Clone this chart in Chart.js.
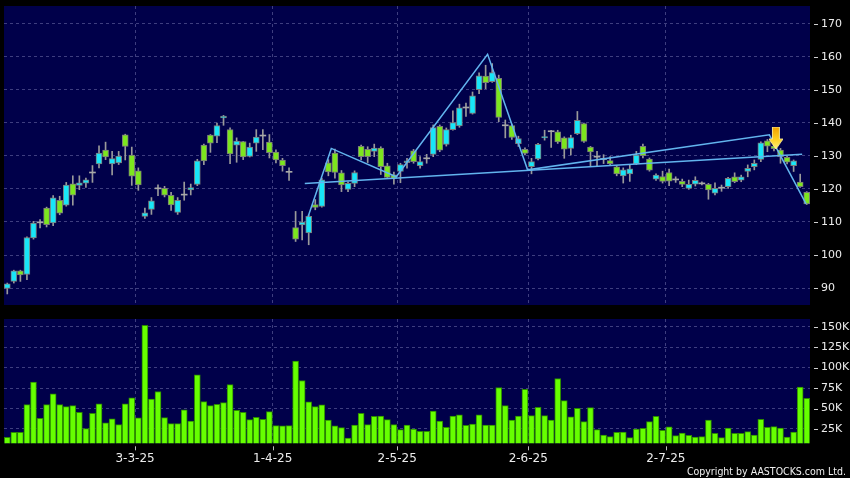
<!DOCTYPE html>
<html><head><meta charset="utf-8">
<script src="https://cdn.jsdelivr.net/npm/chart.js@4.4.1/dist/chart.umd.min.js"></script>
<style>
html,body{margin:0;padding:0;background:#000;}
#wrap{position:relative;width:850px;height:478px;background:#000;overflow:hidden;}
#c1{position:absolute;left:0;top:0;}
#c2{position:absolute;left:0;top:312px;}
#copy{position:absolute;right:4px;top:464px;color:#f0f0f0;font-family:"DejaVu Sans";font-size:10.5px;font-stretch:condensed;line-height:15px;white-space:nowrap;}
</style></head><body>
<div id="wrap">
<canvas id="c1" width="850" height="312"></canvas>
<canvas id="c2" width="850" height="166"></canvas>
<div id="copy">Copyright by AASTOCKS.com Ltd.</div>
</div>
<script>
// ---- data ----
const openP = [89.9,92.0,95.2,94.1,105.2,109.9,114.2,109.7,116.6,115.1,
 121.6,121.1,121.8,125.0,127.6,131.8,127.6,127.9,136.4,130.3,
 125.5,111.7,113.8,120.2,120.2,118.1,112.9,118.3,119.7,121.4,
 133.3,136.3,136.0,141.5,138.0,133.3,134.4,129.9,133.9,136.2,
 134.2,131.2,128.8,125.2,108.3,109.1,106.7,115.3,114.7,127.9,
 130.9,124.9,119.9,121.7,132.9,132.0,131.4,132.4,127.0,124.3,
 125.3,128.0,131.6,127.1,129.3,130.5,139.0,133.5,138.0,139.1,
 144.7,142.9,150.1,154.2,152.5,153.5,139.3,139.2,133.7,132.0,
 126.8,129.1,135.5,137.5,137.3,135.5,132.3,136.8,139.8,132.7,
 129.8,129.1,128.6,126.7,124.0,124.6,127.6,132.9,129.1,123.0,
 123.8,125.0,122.9,122.3,120.2,121.5,121.7,121.4,118.7,120.4,
 120.7,123.7,122.7,125.3,126.8,129.0,134.6,133.0,131.8,129.6,
 127.1,122.1,119.0];
const highP = [91.5,95.4,95.4,105.5,110.2,110.7,114.5,118.0,117.8,122.0,
 124.0,124.0,123.3,127.1,133.1,134.2,131.4,131.4,136.6,132.7,
 126.4,114.2,117.4,121.3,120.8,119.0,117.4,122.1,121.5,129.0,
 133.6,136.5,140.0,142.3,138.5,135.5,134.4,133.9,138.0,138.0,
 136.5,131.9,129.3,126.4,113.2,113.2,112.2,116.8,123.3,128.9,
 132.1,125.6,122.2,125.5,133.3,132.8,133.6,132.8,127.8,125.1,
 127.8,129.3,132.0,129.8,130.5,139.4,139.4,138.5,143.7,145.7,
 146.0,149.4,155.2,157.5,158.0,154.5,140.9,139.7,136.0,132.5,
 129.3,133.8,137.8,137.8,137.8,135.8,136.3,143.5,140.0,132.9,
 131.4,130.4,129.8,127.1,126.4,127.4,131.4,133.6,129.4,124.6,
 125.4,126.0,123.7,123.0,122.7,123.7,122.2,121.7,121.9,121.2,
 123.5,124.9,124.2,127.3,128.8,134.3,135.0,133.5,132.3,129.9,
 128.8,124.5,119.2];
const lowP = [88.2,91.5,92.0,92.5,104.8,108.2,108.5,108.9,112.2,114.8,
 115.1,119.8,120.5,122.0,126.4,128.9,124.3,127.4,128.8,121.1,
 119.6,111.1,112.3,118.0,117.6,113.5,112.3,116.6,118.2,121.0,
 127.4,131.1,134.0,139.3,127.7,128.1,128.9,129.7,131.4,131.9,
 129.4,127.9,125.4,122.6,104.1,104.6,103.1,113.7,114.5,124.0,
 123.3,119.2,119.2,120.7,128.8,128.0,129.8,124.4,123.2,121.5,
 121.9,126.3,127.8,126.3,127.8,129.8,131.3,133.0,137.8,138.7,
 142.0,142.7,148.9,150.4,152.3,140.4,135.5,135.0,132.9,130.3,
 124.6,128.8,134.8,132.6,133.8,129.3,130.3,136.5,134.1,126.9,
 126.9,127.7,127.4,124.0,121.8,122.3,127.4,129.4,125.4,122.6,
 121.8,121.0,122.0,120.7,119.9,120.9,121.2,116.9,118.2,119.3,
 120.2,121.9,122.2,123.7,125.8,128.3,131.3,131.5,127.8,127.6,
 125.3,120.5,115.3];
const closeP = [91.3,95.2,94.0,105.3,109.7,109.9,109.2,117.3,112.7,121.2,
 118.1,121.9,122.8,125.0,130.9,129.7,129.2,130.0,132.9,123.9,
 121.2,112.8,116.4,120.2,118.1,115.2,116.6,118.3,120.4,128.5,
 128.5,133.9,139.2,142.1,130.6,134.5,129.7,132.7,135.7,136.2,
 131.0,128.8,127.1,125.2,104.8,110.0,111.7,114.4,122.8,125.2,
 125.0,121.2,121.7,125.0,129.8,129.8,132.4,126.8,123.5,123.2,
 127.4,128.5,128.3,128.3,129.3,138.6,131.8,138.0,140.1,144.6,
 144.7,148.2,154.3,152.2,155.3,141.7,139.3,135.6,135.3,130.8,
 128.3,133.5,135.9,137.5,134.3,132.1,135.6,140.8,134.4,131.2,
 129.8,129.1,127.7,124.6,125.8,126.1,130.3,130.1,125.7,124.2,
 122.3,122.4,122.9,121.4,121.4,122.6,121.7,119.7,120.2,120.4,
 123.2,122.2,123.7,126.3,127.8,134.0,133.0,132.2,129.8,128.1,
 128.5,120.7,115.5];
// volume in thousands of shares
const volumeK = [14.8,20.9,20.9,54.8,82.2,38.1,54.8,67.9,54.8,52.4,
 53.6,45.4,25.4,44.2,55.6,32.4,37.3,30.3,55.6,63.0,
 38.5,151.6,61.4,70.8,38.9,31.5,31.5,48.3,34.8,91.2,
 58.5,53.6,55.2,57.3,79.3,47.9,45.4,36.4,39.3,36.8,
 46.2,29.1,28.7,29.1,107.9,84.2,58.1,52.4,54.4,36.0,
 28.7,26.6,14.0,29.9,44.2,30.3,40.5,40.9,36.4,30.3,
 24.2,29.9,25.0,22.0,22.0,47.0,34.8,27.0,40.9,42.2,
 29.5,31.1,42.2,29.9,29.9,75.7,53.6,36.0,40.9,73.6,
 41.3,51.6,41.3,36.0,86.7,59.7,39.7,50.3,34.0,51.1,
 24.2,17.6,15.6,20.9,21.3,14.4,25.0,25.8,34.0,40.5,
 23.4,27.5,16.8,20.1,17.2,15.2,15.6,36.0,19.7,14.4,
 26.2,19.7,19.7,21.7,17.6,36.8,27.0,27.9,26.2,15.2,
 21.3,76.1,62.6];
const priceTicks = [90,100,110,120,130,140,150,160,170];
const volumeTicks = [25,50,75,100,125,150];
const monthTickIndex = [20,41,60,80,101];
const monthTickLabels = ['3-3-25','1-4-25','2-5-25','2-6-25','2-7-25'];
// drawn pattern lines (bar index, price)
const patternX = [45.9,49.45,59.36,73.3,79.4,116.3,121.9];
const patternY = [111.6,132.3,123.7,160.8,125.8,136.4,115.5];
const necklineX = [45.4,121.3];
const necklineY = [121.7,130.5];
const signalIndex = [117.3];
const signalPrice = [135.45];

// ---- styles ----
const BG = '#00004a', GRID = 'rgba(100,100,160,0.62)';
const UP = '#18e6f8', DOWN = '#7ce61e', DOJI = '#a8a8a8', WICK = '#9a9a9a', EDGE = '#7a7a7a';
const VOL = '#66ff00', VOL_EDGE = '#2c8a00', LINE = '#62b4ee', TXT = '#ececec';
const FONT = {family:'DejaVu Sans', size:11};
const N = openP.length;
const idx = openP.map((_, i) => i);
const isDoji = i => Math.abs(closeP[i] - openP[i]) < 0.05;
const wickData = idx.map(i => ({x:i, y:[lowP[i], highP[i]]}));
const bodyData = idx.map(i => isDoji(i)
  ? {x:i, y:[closeP[i]-0.15, closeP[i]+0.15]}
  : {x:i, y:[Math.min(openP[i],closeP[i]), Math.max(openP[i],closeP[i])]});
const bodyColor = idx.map(i => isDoji(i) ? DOJI : (closeP[i] > openP[i] ? UP : DOWN));
const bodyBorder = idx.map(i => isDoji(i) ? 0 : 1);

function makeArrow(){
  const c = document.createElement('canvas'); c.width = 14; c.height = 22;
  const g = c.getContext('2d');
  const gr = g.createLinearGradient(0,0,0,22);
  gr.addColorStop(0,'#f0a000'); gr.addColorStop(0.55,'#ffd020'); gr.addColorStop(1,'#fff27a');
  g.fillStyle = gr;
  g.beginPath();
  g.moveTo(3.5,0); g.lineTo(10.5,0); g.lineTo(10.5,12); g.lineTo(14,12);
  g.lineTo(7,22); g.lineTo(0,12); g.lineTo(3.5,12); g.closePath(); g.fill();
  g.strokeStyle = 'rgba(255,240,150,0.9)'; g.lineWidth = 1; g.stroke();
  return c;
}

const bgPlugin = {id:'bg', beforeDraw(ch){ const a = ch.chartArea, c = ch.ctx; c.save(); c.fillStyle = BG; c.fillRect(a.left, a.top, a.right-a.left, a.bottom-a.top); c.restore(); }};
const yMarks = {id:'ymarks', afterDraw(ch){ const s = ch.scales.y, c = ch.ctx; c.save(); c.strokeStyle = '#cfcfcf'; c.lineWidth = 1;
  s.ticks.forEach(t => { const y = Math.round(s.getPixelForValue(t.value)) + 0.5; c.beginPath(); c.moveTo(ch.chartArea.right+4, y); c.lineTo(ch.chartArea.right+8, y); c.stroke(); });
  c.restore(); }};
const xMarks = {id:'xmarks', afterDraw(ch){ const s = ch.scales.x, c = ch.ctx; c.save(); c.strokeStyle = '#bdbdbd'; c.lineWidth = 1;
  s.ticks.forEach(t => { const x = Math.round(s.getPixelForValue(t.value)) + 0.5; c.beginPath(); c.moveTo(x, ch.chartArea.bottom+3); c.lineTo(x, ch.chartArea.bottom+7); c.stroke(); });
  c.restore(); }};

const xBase = () => ({
  type:'linear', min:-0.5, max:N-0.5, offset:false,
  afterBuildTicks: s => { s.ticks = monthTickIndex.map(i => ({value:i-0.5})); },
  grid:{color:GRID, lineWidth:1, drawTicks:false, offset:false},
  border:{display:false, dash:[3,3]}
});

new Chart(document.getElementById('c1'), {
  type:'bar',
  data:{datasets:[
    {type:'scatter', data: signalIndex.map((x,k)=>({x, y:signalPrice[k]})), pointStyle: makeArrow(), pointRadius:11, order:0},
    {type:'line', data: necklineX.map((x,k)=>({x, y:necklineY[k]})), borderColor:LINE, borderWidth:1.5, pointRadius:0, order:1},
    {type:'line', data: patternX.map((x,k)=>({x, y:patternY[k]})), borderColor:LINE, borderWidth:1.5, pointRadius:0, order:1},
    {data: bodyData, backgroundColor: bodyColor, borderColor: EDGE, borderWidth: bodyBorder, borderSkipped:false, barThickness:6, grouped:false, order:2},
    {data: wickData, backgroundColor: WICK, barThickness:1, grouped:false, order:3}
  ]},
  options:{
    responsive:false, animation:false, events:[],
    layout:{autoPadding:false, padding:{left:4, top:6, right:0, bottom:7}},
    plugins:{legend:{display:false}, tooltip:{enabled:false}},
    scales:{
      x: Object.assign(xBase(), {ticks:{display:false}, afterFit: s => { s.height = 0; s.paddingLeft = 0; s.paddingRight = 0; }}),
      y:{position:'right', min:84.85, max:175.45,
        afterBuildTicks: s => { s.ticks = priceTicks.map(v => ({value:v})); },
        afterFit: s => { s.width = 40; s.paddingTop = 0; s.paddingBottom = 0; },
        ticks:{color:TXT, font:FONT, padding:11},
        grid:{color:GRID, drawTicks:false},
        border:{display:false, dash:[3,3]}}
    }
  },
  plugins:[bgPlugin, yMarks]
});

new Chart(document.getElementById('c2'), {
  type:'bar',
  data:{datasets:[
    {data: volumeK.map((v,i)=>({x:i, y:v})), backgroundColor:VOL, borderColor:VOL_EDGE, borderWidth:1, borderSkipped:'bottom', barThickness:6}
  ]},
  options:{
    responsive:false, animation:false, events:[],
    layout:{autoPadding:false, padding:{left:4, top:7, right:0, bottom:0}},
    plugins:{legend:{display:false}, tooltip:{enabled:false}},
    scales:{
      x: Object.assign(xBase(), {
        ticks:{color:TXT, font:{family:'DejaVu Sans', size:12}, padding:8, maxRotation:0, autoSkip:false,
          callback: v => { const k = monthTickIndex.indexOf(Math.round(v+0.5)); return k >= 0 ? monthTickLabels[k] : ''; }},
        afterFit: s => { s.height = 34.7; s.paddingLeft = 0; s.paddingRight = 0; }}),
      y:{position:'right', min:7.5, max:159.4,
        afterBuildTicks: s => { s.ticks = volumeTicks.map(v => ({value:v})); },
        afterFit: s => { s.width = 40; s.paddingTop = 0; s.paddingBottom = 0; },
        ticks:{color:TXT, font:FONT, padding:11, callback: v => v + 'K'},
        grid:{color:GRID, drawTicks:false},
        border:{display:false, dash:[3,3]}}
    }
  },
  plugins:[bgPlugin, yMarks, xMarks]
});
</script>
</body></html>
